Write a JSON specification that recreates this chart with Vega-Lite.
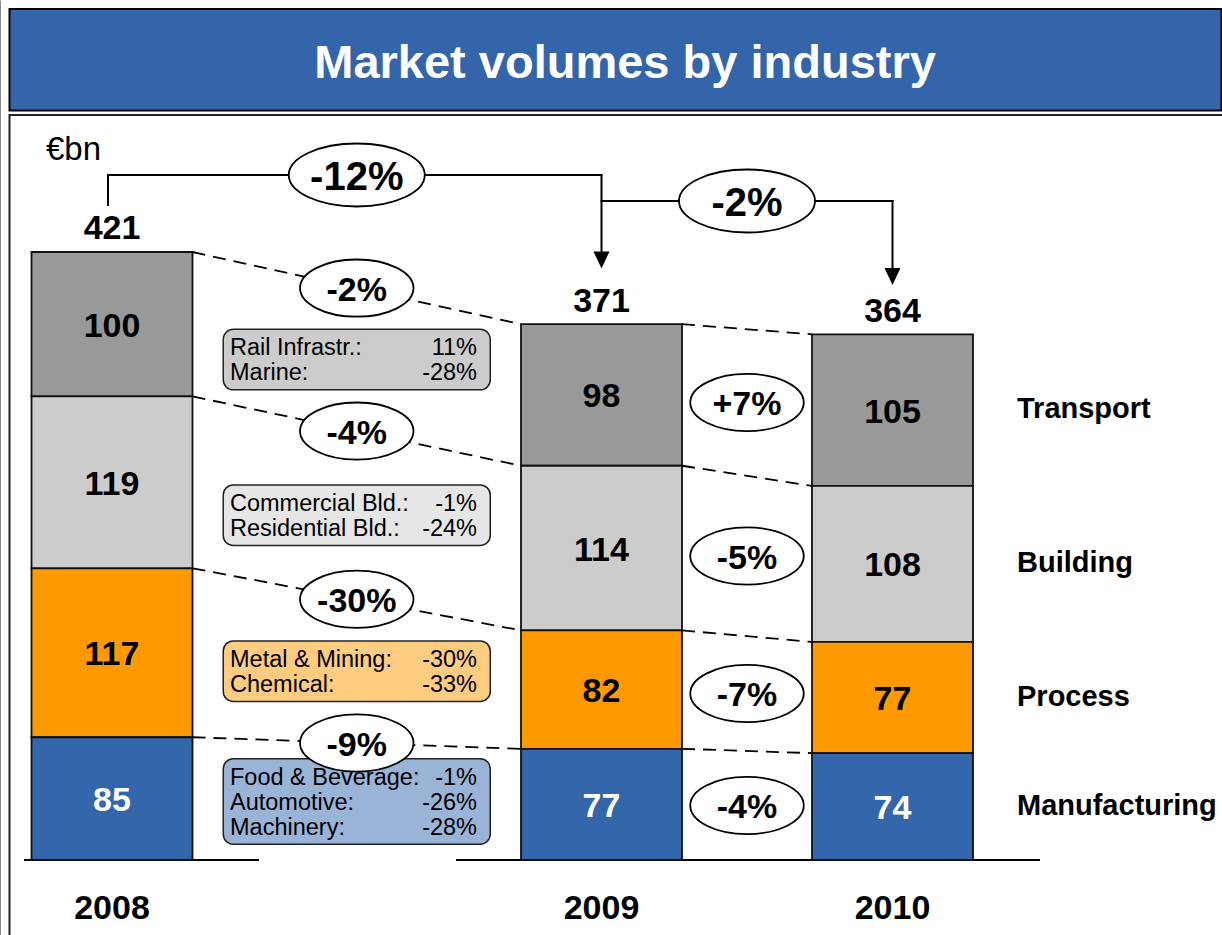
{
  "$schema": "https://vega.github.io/schema/vega-lite/v6.json",
  "width": 1222,
  "height": 935,
  "padding": 0,
  "autosize": {"type": "none"},
  "background": "#ffffff",
  "config": {"view": {"stroke": null}, "font": "Liberation Sans", "text": {"font": "Liberation Sans"}, "scale": {"continuousPadding": 0}},
  "data": {
    "values": [
      {"kind": "bar", "year": 2008, "industry": "Transport", "value": 100, "change": "-2%"},
      {"kind": "bar", "year": 2008, "industry": "Building", "value": 119, "change": "-4%"},
      {"kind": "bar", "year": 2008, "industry": "Process", "value": 117, "change": "-30%"},
      {"kind": "bar", "year": 2008, "industry": "Manufacturing", "value": 85, "change": "-9%"},
      {"kind": "bar", "year": 2009, "industry": "Transport", "value": 98, "change": "+7%"},
      {"kind": "bar", "year": 2009, "industry": "Building", "value": 114, "change": "-5%"},
      {"kind": "bar", "year": 2009, "industry": "Process", "value": 82, "change": "-7%"},
      {"kind": "bar", "year": 2009, "industry": "Manufacturing", "value": 77, "change": "-4%"},
      {"kind": "bar", "year": 2010, "industry": "Transport", "value": 105},
      {"kind": "bar", "year": 2010, "industry": "Building", "value": 108},
      {"kind": "bar", "year": 2010, "industry": "Process", "value": 77},
      {"kind": "bar", "year": 2010, "industry": "Manufacturing", "value": 74},
      {"kind": "total", "year": 2008, "change": "-12%"},
      {"kind": "total", "year": 2009, "change": "-2%"},
      {"kind": "sub", "industry": "Transport", "sub": "Rail Infrastr.:", "change": "11%"},
      {"kind": "sub", "industry": "Transport", "sub": "Marine:", "change": "-28%"},
      {"kind": "sub", "industry": "Building", "sub": "Commercial Bld.:", "change": "-1%"},
      {"kind": "sub", "industry": "Building", "sub": "Residential Bld.:", "change": "-24%"},
      {"kind": "sub", "industry": "Process", "sub": "Metal & Mining:", "change": "-30%"},
      {"kind": "sub", "industry": "Process", "sub": "Chemical:", "change": "-33%"},
      {"kind": "sub", "industry": "Manufacturing", "sub": "Food & Beverage:", "change": "-1%"},
      {"kind": "sub", "industry": "Manufacturing", "sub": "Automotive:", "change": "-26%"},
      {"kind": "sub", "industry": "Manufacturing", "sub": "Machinery:", "change": "-28%"}
    ]
  },
  "layer": [
    {
      "transform": [{"aggregate": [{"op": "count", "as": "n"}]}],
      "layer": [
        {
          "mark": {"type": "rect", "fill": "#3465AA", "stroke": "#000000", "strokeWidth": 2},
          "encoding": {
            "x": {"datum": 2007.7906, "type": "quantitative", "scale": {"domain": [2008, 2009, 2010], "range": [112, 601.5, 892.5], "nice": false, "zero": false, "padding": 0}},
            "x2": {"datum": 2011.1306},
            "y": {"datum": 589.25, "type": "quantitative", "scale": {"domain": [-51.93, 595.49], "range": [935, 0], "nice": false, "zero": false, "padding": 0}},
            "y2": {"datum": 518.97}
          }
        },
        {
          "mark": {"type": "rect", "fillOpacity": 0, "stroke": "#222222", "strokeWidth": 2},
          "encoding": {
            "x": {"datum": 2007.7906, "type": "quantitative", "scale": {"domain": [2008, 2009, 2010], "range": [112, 601.5, 892.5], "nice": false, "zero": false, "padding": 0}},
            "x2": {"datum": 2011.3},
            "y": {"datum": 515.86, "type": "quantitative", "scale": {"domain": [-51.93, 595.49], "range": [935, 0], "nice": false, "zero": false, "padding": 0}},
            "y2": {"datum": -76.2}
          }
        },
        {
          "mark": {"type": "text", "text": "Market volumes by industry", "font": "Liberation Sans", "fontSize": 47, "fontWeight": "bold", "fill": "#ffffff", "align": "center", "baseline": "alphabetic"},
          "encoding": {
            "x": {"datum": 2009.081, "type": "quantitative", "scale": {"domain": [2008, 2009, 2010], "range": [112, 601.5, 892.5], "nice": false, "zero": false, "padding": 0}},
            "y": {"datum": 541.48, "type": "quantitative", "scale": {"domain": [-51.93, 595.49], "range": [935, 0], "nice": false, "zero": false, "padding": 0}}
          }
        },
        {
          "mark": {"type": "text", "text": "€bn", "font": "Liberation Sans", "fontSize": 33, "fill": "#000000", "align": "left", "baseline": "alphabetic"},
          "encoding": {
            "x": {"datum": 2007.8652, "type": "quantitative", "scale": {"domain": [2008, 2009, 2010], "range": [112, 601.5, 892.5], "nice": false, "zero": false, "padding": 0}},
            "y": {"datum": 484.7, "type": "quantitative", "scale": {"domain": [-51.93, 595.49], "range": [935, 0], "nice": false, "zero": false, "padding": 0}}
          }
        },
        {
          "mark": {"type": "rule", "stroke": "#000000", "strokeWidth": 2},
          "encoding": {
            "x": {"datum": 2007.8202, "type": "quantitative", "scale": {"domain": [2008, 2009, 2010], "range": [112, 601.5, 892.5], "nice": false, "zero": false, "padding": 0}},
            "x2": {"datum": 2008.3003},
            "y": {"datum": 0, "type": "quantitative", "scale": {"domain": [-51.93, 595.49], "range": [935, 0], "nice": false, "zero": false, "padding": 0}}
          }
        },
        {
          "mark": {"type": "rule", "stroke": "#000000", "strokeWidth": 2},
          "encoding": {
            "x": {"datum": 2008.7028, "type": "quantitative", "scale": {"domain": [2008, 2009, 2010], "range": [112, 601.5, 892.5], "nice": false, "zero": false, "padding": 0}},
            "x2": {"datum": 2010.5069},
            "y": {"datum": 0, "type": "quantitative", "scale": {"domain": [-51.93, 595.49], "range": [935, 0], "nice": false, "zero": false, "padding": 0}}
          }
        },
        {
          "mark": {"type": "rule", "stroke": "#000000", "strokeWidth": 2, "strokeCap": "square"},
          "encoding": {
            "x": {"datum": 2007.9918, "type": "quantitative", "scale": {"domain": [2008, 2009, 2010], "range": [112, 601.5, 892.5], "nice": false, "zero": false, "padding": 0}},
            "y": {"datum": 453.54, "type": "quantitative", "scale": {"domain": [-51.93, 595.49], "range": [935, 0], "nice": false, "zero": false, "padding": 0}},
            "y2": {"datum": 474.31}
          }
        },
        {
          "mark": {"type": "rule", "stroke": "#000000", "strokeWidth": 2, "strokeCap": "square"},
          "encoding": {
            "x": {"datum": 2007.9918, "type": "quantitative", "scale": {"domain": [2008, 2009, 2010], "range": [112, 601.5, 892.5], "nice": false, "zero": false, "padding": 0}},
            "x2": {"datum": 2009},
            "y": {"datum": 474.31, "type": "quantitative", "scale": {"domain": [-51.93, 595.49], "range": [935, 0], "nice": false, "zero": false, "padding": 0}}
          }
        },
        {
          "mark": {"type": "rule", "stroke": "#000000", "strokeWidth": 2, "strokeCap": "square"},
          "encoding": {
            "x": {"datum": 2009, "type": "quantitative", "scale": {"domain": [2008, 2009, 2010], "range": [112, 601.5, 892.5], "nice": false, "zero": false, "padding": 0}},
            "y": {"datum": 474.31, "type": "quantitative", "scale": {"domain": [-51.93, 595.49], "range": [935, 0], "nice": false, "zero": false, "padding": 0}},
            "y2": {"datum": 421.0}
          }
        },
        {
          "mark": {"type": "rule", "stroke": "#000000", "strokeWidth": 2, "strokeCap": "square"},
          "encoding": {
            "x": {"datum": 2009, "type": "quantitative", "scale": {"domain": [2008, 2009, 2010], "range": [112, 601.5, 892.5], "nice": false, "zero": false, "padding": 0}},
            "x2": {"datum": 2010},
            "y": {"datum": 456.31, "type": "quantitative", "scale": {"domain": [-51.93, 595.49], "range": [935, 0], "nice": false, "zero": false, "padding": 0}}
          }
        },
        {
          "mark": {"type": "rule", "stroke": "#000000", "strokeWidth": 2, "strokeCap": "square"},
          "encoding": {
            "x": {"datum": 2010, "type": "quantitative", "scale": {"domain": [2008, 2009, 2010], "range": [112, 601.5, 892.5], "nice": false, "zero": false, "padding": 0}},
            "y": {"datum": 456.31, "type": "quantitative", "scale": {"domain": [-51.93, 595.49], "range": [935, 0], "nice": false, "zero": false, "padding": 0}},
            "y2": {"datum": 409.7}
          }
        },
        {
          "mark": {"type": "point", "shape": "M -1 -1.0625 L 1 -1.0625 L 0 1.0625 Z", "size": 256, "filled": true, "fill": "#000000", "strokeWidth": 0, "opacity": 1},
          "encoding": {
            "x": {"datum": 2009, "type": "quantitative", "scale": {"domain": [2008, 2009, 2010], "range": [112, 601.5, 892.5], "nice": false, "zero": false, "padding": 0}},
            "y": {"datum": 415.45, "type": "quantitative", "scale": {"domain": [-51.93, 595.49], "range": [935, 0], "nice": false, "zero": false, "padding": 0}}
          }
        },
        {
          "mark": {"type": "point", "shape": "M -1 -1.0625 L 1 -1.0625 L 0 1.0625 Z", "size": 256, "filled": true, "fill": "#000000", "strokeWidth": 0, "opacity": 1},
          "encoding": {
            "x": {"datum": 2010, "type": "quantitative", "scale": {"domain": [2008, 2009, 2010], "range": [112, 601.5, 892.5], "nice": false, "zero": false, "padding": 0}},
            "y": {"datum": 404.03, "type": "quantitative", "scale": {"domain": [-51.93, 595.49], "range": [935, 0], "nice": false, "zero": false, "padding": 0}}
          }
        }
      ]
    },
    {
      "transform": [
        {"filter": "datum.kind === 'bar'"},
        {"calculate": "indexof(['Manufacturing','Process','Building','Transport'], datum.industry)", "as": "order"},
        {"stack": "value", "groupby": ["year"], "sort": [{"field": "order", "order": "ascending"}], "as": ["v0", "v1"]},
        {"window": [{"op": "lead", "field": "year", "as": "nextYear"}, {"op": "lead", "field": "v0", "as": "nextV0"}, {"op": "lead", "field": "v1", "as": "nextV1"}], "groupby": ["industry"], "sort": [{"field": "year", "order": "ascending"}]},
        {"calculate": "(datum.v0 + datum.v1) / 2", "as": "mid"}
      ],
      "layer": [
        {
          "transform": [{"filter": "isValid(datum.nextYear)"}],
          "mark": {"type": "rule", "stroke": "#000000", "strokeWidth": 1.8, "strokeDash": [13, 8], "xOffset": 80.5, "x2Offset": -80.5},
          "encoding": {
            "x": {"field": "year", "type": "quantitative", "scale": {"domain": [2008, 2009, 2010], "range": [112, 601.5, 892.5], "nice": false, "zero": false, "padding": 0}},
            "x2": {"field": "nextYear"},
            "y": {"field": "v1", "type": "quantitative", "scale": {"domain": [-51.93, 595.49], "range": [935, 0], "nice": false, "zero": false, "padding": 0}},
            "y2": {"field": "nextV1"}
          }
        },
        {
          "mark": {"type": "bar", "width": 161, "stroke": "#111111", "strokeWidth": 1.8},
          "encoding": {
            "x": {"field": "year", "type": "quantitative", "scale": {"domain": [2008, 2009, 2010], "range": [112, 601.5, 892.5], "nice": false, "zero": false, "padding": 0}},
            "y": {"field": "v1", "type": "quantitative", "scale": {"domain": [-51.93, 595.49], "range": [935, 0], "nice": false, "zero": false, "padding": 0}},
            "y2": {"field": "v0"},
            "color": {"field": "industry", "type": "nominal", "scale": {"domain": ["Transport", "Building", "Process", "Manufacturing"], "range": ["#999999", "#CCCCCC", "#FF9900", "#3366AA"]}, "legend": null}
          }
        },
        {
          "mark": {"type": "text", "font": "Liberation Sans", "fontSize": 34, "fontWeight": "bold", "align": "center", "baseline": "alphabetic", "dy": 12.5},
          "encoding": {
            "x": {"field": "year", "type": "quantitative", "scale": {"domain": [2008, 2009, 2010], "range": [112, 601.5, 892.5], "nice": false, "zero": false, "padding": 0}},
            "y": {"field": "mid", "type": "quantitative", "scale": {"domain": [-51.93, 595.49], "range": [935, 0], "nice": false, "zero": false, "padding": 0}},
            "text": {"field": "value", "type": "quantitative"},
            "color": {"condition": {"test": "datum.industry === 'Manufacturing'", "value": "#ffffff"}, "value": "#000000"}
          }
        },
        {
          "transform": [{"filter": "datum.year === 2010"}],
          "mark": {"type": "text", "font": "Liberation Sans", "fontSize": 29, "fontWeight": "bold", "align": "left", "baseline": "alphabetic", "dx": 124.5, "dy": 8, "fill": "#000000"},
          "encoding": {
            "x": {"field": "year", "type": "quantitative", "scale": {"domain": [2008, 2009, 2010], "range": [112, 601.5, 892.5], "nice": false, "zero": false, "padding": 0}},
            "y": {"field": "mid", "type": "quantitative", "scale": {"domain": [-51.93, 595.49], "range": [935, 0], "nice": false, "zero": false, "padding": 0}},
            "text": {"field": "industry", "type": "nominal"}
          }
        },
        {
          "transform": [{"filter": "datum.industry === 'Manufacturing'"}],
          "mark": {"type": "text", "font": "Liberation Sans", "fontSize": 34, "fontWeight": "bold", "align": "center", "baseline": "alphabetic", "fill": "#000000"},
          "encoding": {
            "x": {"field": "year", "type": "quantitative", "scale": {"domain": [2008, 2009, 2010], "range": [112, 601.5, 892.5], "nice": false, "zero": false, "padding": 0}},
            "y": {"datum": -40.85, "type": "quantitative", "scale": {"domain": [-51.93, 595.49], "range": [935, 0], "nice": false, "zero": false, "padding": 0}},
            "text": {"field": "year", "type": "nominal"}
          }
        },
        {
          "transform": [{"aggregate": [{"op": "sum", "field": "value", "as": "total"}], "groupby": ["year"]}],
          "mark": {"type": "text", "font": "Liberation Sans", "fontSize": 34, "fontWeight": "bold", "align": "center", "baseline": "alphabetic", "dy": -12.5, "fill": "#000000"},
          "encoding": {
            "x": {"field": "year", "type": "quantitative", "scale": {"domain": [2008, 2009, 2010], "range": [112, 601.5, 892.5], "nice": false, "zero": false, "padding": 0}},
            "y": {"field": "total", "type": "quantitative", "scale": {"domain": [-51.93, 595.49], "range": [935, 0], "nice": false, "zero": false, "padding": 0}},
            "text": {"field": "total", "type": "quantitative"}
          }
        }
      ]
    },
    {
      "transform": [
        {"calculate": "indexof(['Manufacturing','Process','Building','Transport'], datum.industry)", "as": "order"},
        {"stack": "value", "groupby": ["kind", "year"], "sort": [{"field": "order", "order": "ascending"}], "as": ["v0", "v1"]},
        {"calculate": "datum.kind === 'bar' && datum.year <= 2009 ? (datum.v0 + datum.v1) / 2 : null", "as": "c"},
        {"joinaggregate": [{"op": "mean", "field": "c", "as": "boxC"}], "groupby": ["industry"]},
        {"filter": "datum.kind === 'sub'"},
        {"window": [{"op": "row_number", "as": "idx"}], "groupby": ["industry"]},
        {"joinaggregate": [{"op": "count", "as": "n"}], "groupby": ["industry"]},
        {"calculate": "datum.boxC + ((datum.n + 1) / 2 - datum.idx) * 17.31", "as": "ty"},
        {"calculate": "datum.boxC + (25 * datum.n + 10.5) / 2 / 1.4442", "as": "bTop"},
        {"calculate": "datum.boxC - (25 * datum.n + 10.5) / 2 / 1.4442", "as": "bBot"}
      ],
      "layer": [
        {
          "transform": [{"filter": "datum.idx === 1"}],
          "mark": {"type": "bar", "width": 267, "cornerRadius": 10, "stroke": "#222222", "strokeWidth": 1.5},
          "encoding": {
            "x": {"datum": 2008.5, "type": "quantitative", "scale": {"domain": [2008, 2009, 2010], "range": [112, 601.5, 892.5], "nice": false, "zero": false, "padding": 0}},
            "y": {"field": "bTop", "type": "quantitative", "scale": {"domain": [-51.93, 595.49], "range": [935, 0], "nice": false, "zero": false, "padding": 0}},
            "y2": {"field": "bBot"},
            "fill": {"field": "industry", "type": "nominal", "scale": {"domain": ["Transport", "Building", "Process", "Manufacturing"], "range": ["#CCCCCC", "#E6E6E6", "#FFCC80", "#9AB4D8"]}, "legend": null}
          }
        },
        {
          "mark": {"type": "text", "font": "Liberation Sans", "fontSize": 23.5, "align": "left", "baseline": "alphabetic", "dx": -126.75, "dy": 8, "fill": "#000000"},
          "encoding": {
            "x": {"datum": 2008.5, "type": "quantitative", "scale": {"domain": [2008, 2009, 2010], "range": [112, 601.5, 892.5], "nice": false, "zero": false, "padding": 0}},
            "y": {"field": "ty", "type": "quantitative", "scale": {"domain": [-51.93, 595.49], "range": [935, 0], "nice": false, "zero": false, "padding": 0}},
            "text": {"field": "sub", "type": "nominal"}
          }
        },
        {
          "mark": {"type": "text", "font": "Liberation Sans", "fontSize": 23.5, "align": "right", "baseline": "alphabetic", "dx": 120.25, "dy": 8, "fill": "#000000"},
          "encoding": {
            "x": {"datum": 2008.5, "type": "quantitative", "scale": {"domain": [2008, 2009, 2010], "range": [112, 601.5, 892.5], "nice": false, "zero": false, "padding": 0}},
            "y": {"field": "ty", "type": "quantitative", "scale": {"domain": [-51.93, 595.49], "range": [935, 0], "nice": false, "zero": false, "padding": 0}},
            "text": {"field": "change", "type": "nominal"}
          }
        }
      ]
    },
    {
      "transform": [
        {"filter": "datum.kind === 'bar'"},
        {"calculate": "indexof(['Manufacturing','Process','Building','Transport'], datum.industry)", "as": "order"},
        {"stack": "value", "groupby": ["year"], "sort": [{"field": "order", "order": "ascending"}], "as": ["v0", "v1"]},
        {"window": [{"op": "lead", "field": "year", "as": "nextYear"}, {"op": "lead", "field": "v0", "as": "nextV0"}, {"op": "lead", "field": "v1", "as": "nextV1"}], "groupby": ["industry"], "sort": [{"field": "year", "order": "ascending"}]},
        {"filter": "isValid(datum.nextYear)"},
        {"calculate": "(datum.year + datum.nextYear) / 2", "as": "mx"},
        {"calculate": "datum.year === 2008 ? (datum.v1 + datum.nextV1) / 2 : (datum.v0 + datum.v1 + datum.nextV0 + datum.nextV1) / 4", "as": "ey"}
      ],
      "encoding": {
        "x": {"field": "mx", "type": "quantitative", "scale": {"domain": [2008, 2009, 2010], "range": [112, 601.5, 892.5], "nice": false, "zero": false, "padding": 0}},
        "y": {"field": "ey", "type": "quantitative", "scale": {"domain": [-51.93, 595.49], "range": [935, 0], "nice": false, "zero": false, "padding": 0}}
      },
      "layer": [
        {
          "mark": {"type": "point", "shape": "M 1 0 C 1 0.2784 0.5523 0.504 0 0.504 C -0.5523 0.504 -1 0.2784 -1 0 C -1 -0.2784 -0.5523 -0.504 0 -0.504 C 0.5523 -0.504 1 -0.2784 1 0 Z", "size": 12882, "filled": true, "fill": "#ffffff", "stroke": "#000000", "strokeWidth": 1.8, "opacity": 1}
        },
        {
          "mark": {"type": "text", "font": "Liberation Sans", "fontSize": 34, "fontWeight": "bold", "align": "center", "baseline": "alphabetic", "dy": 12.5, "fill": "#000000"},
          "encoding": {"text": {"field": "change", "type": "nominal"}}
        }
      ]
    },
    {
      "transform": [{"filter": "datum.kind === 'total' && datum.year === 2008"}],
      "encoding": {
        "x": {"datum": 2008.5, "type": "quantitative", "scale": {"domain": [2008, 2009, 2010], "range": [112, 601.5, 892.5], "nice": false, "zero": false, "padding": 0}},
        "y": {"datum": 474.31, "type": "quantitative", "scale": {"domain": [-51.93, 595.49], "range": [935, 0], "nice": false, "zero": false, "padding": 0}}
      },
      "layer": [
        {
          "mark": {"type": "point", "shape": "M 1 0 C 1 0.2557 0.5523 0.463 0 0.463 C -0.5523 0.463 -1 0.2557 -1 0 C -1 -0.2557 -0.5523 -0.463 0 -0.463 C 0.5523 -0.463 1 -0.2557 1 0 Z", "size": 18496, "filled": true, "fill": "#ffffff", "stroke": "#000000", "strokeWidth": 1.8, "opacity": 1}
        },
        {
          "mark": {"type": "text", "font": "Liberation Sans", "fontSize": 40, "fontWeight": "bold", "align": "center", "baseline": "alphabetic", "dy": 14.5, "fill": "#000000"},
          "encoding": {"text": {"field": "change", "type": "nominal"}}
        }
      ]
    },
    {
      "transform": [{"filter": "datum.kind === 'total' && datum.year === 2009"}],
      "encoding": {
        "x": {"datum": 2009.5, "type": "quantitative", "scale": {"domain": [2008, 2009, 2010], "range": [112, 601.5, 892.5], "nice": false, "zero": false, "padding": 0}},
        "y": {"datum": 456.31, "type": "quantitative", "scale": {"domain": [-51.93, 595.49], "range": [935, 0], "nice": false, "zero": false, "padding": 0}}
      },
      "layer": [
        {
          "mark": {"type": "point", "shape": "M 1 0 C 1 0.2557 0.5523 0.463 0 0.463 C -0.5523 0.463 -1 0.2557 -1 0 C -1 -0.2557 -0.5523 -0.463 0 -0.463 C 0.5523 -0.463 1 -0.2557 1 0 Z", "size": 18496, "filled": true, "fill": "#ffffff", "stroke": "#000000", "strokeWidth": 1.8, "opacity": 1}
        },
        {
          "mark": {"type": "text", "font": "Liberation Sans", "fontSize": 40, "fontWeight": "bold", "align": "center", "baseline": "alphabetic", "dy": 14.5, "fill": "#000000"},
          "encoding": {"text": {"field": "change", "type": "nominal"}}
        }
      ]
    }
  ]
}
